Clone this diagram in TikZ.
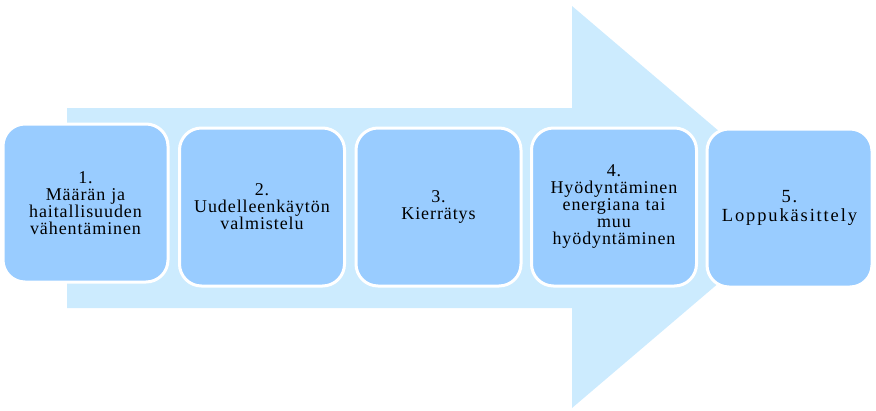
\documentclass[tikz,border=0pt]{standalone}
\usepackage{fontspec}
\setmainfont{Liberation Serif}
\newfontfamily\stepfont[LetterSpace=5]{Liberation Serif}
\newfontfamily\laststepfont[LetterSpace=10]{Liberation Serif}
\usepackage{tikz}
\usetikzlibrary{positioning}
\definecolor{arrowblue}{HTML}{CCEBFE}
\definecolor{boxblue}{HTML}{99CCFF}

\begin{document}
\begin{tikzpicture}[
  x=1pt, y=-1pt,
  bigarrow/.style={fill=arrowblue, draw=none},
  stepbox/.style={
    fill=boxblue, draw=white, line width=3pt, rounded corners=22pt,
    minimum width=165pt, minimum height=158pt, text width=160pt,
    align=center, inner sep=0pt, font=\stepfont\fontsize{18}{17}\selectfont},
  laststep/.style={stepbox, font=\laststepfont\fontsize{18.5}{18.5}\selectfont},
]
  \useasboundingbox (0,0) rectangle (876,410);

  %% Background arrow
  \fill[bigarrow] (67,108) -- (572,108) -- (572,6) -- (808,207)
    -- (572,408) -- (572,308) -- (67,308) -- cycle;

  %% Steps
  \node[stepbox] (s1) at (85.5,203) {1.\\Määrän ja\\haitallisuuden\\vähentäminen};
  \node[stepbox] (s2) at (262,207) {2.\\Uudelleenkäytön\\valmistelu};
  \node[stepbox] (s3) at (438.5,207) {3.\\Kierrätys};
  \node[stepbox] (s4) at (614,207) {4.\\Hyödyntäminen\\energiana tai\\muu\\hyödyntäminen};
  \node[laststep] (s5) at (789.5,208) {5.\\Loppukäsittely};
\end{tikzpicture}
\end{document}
